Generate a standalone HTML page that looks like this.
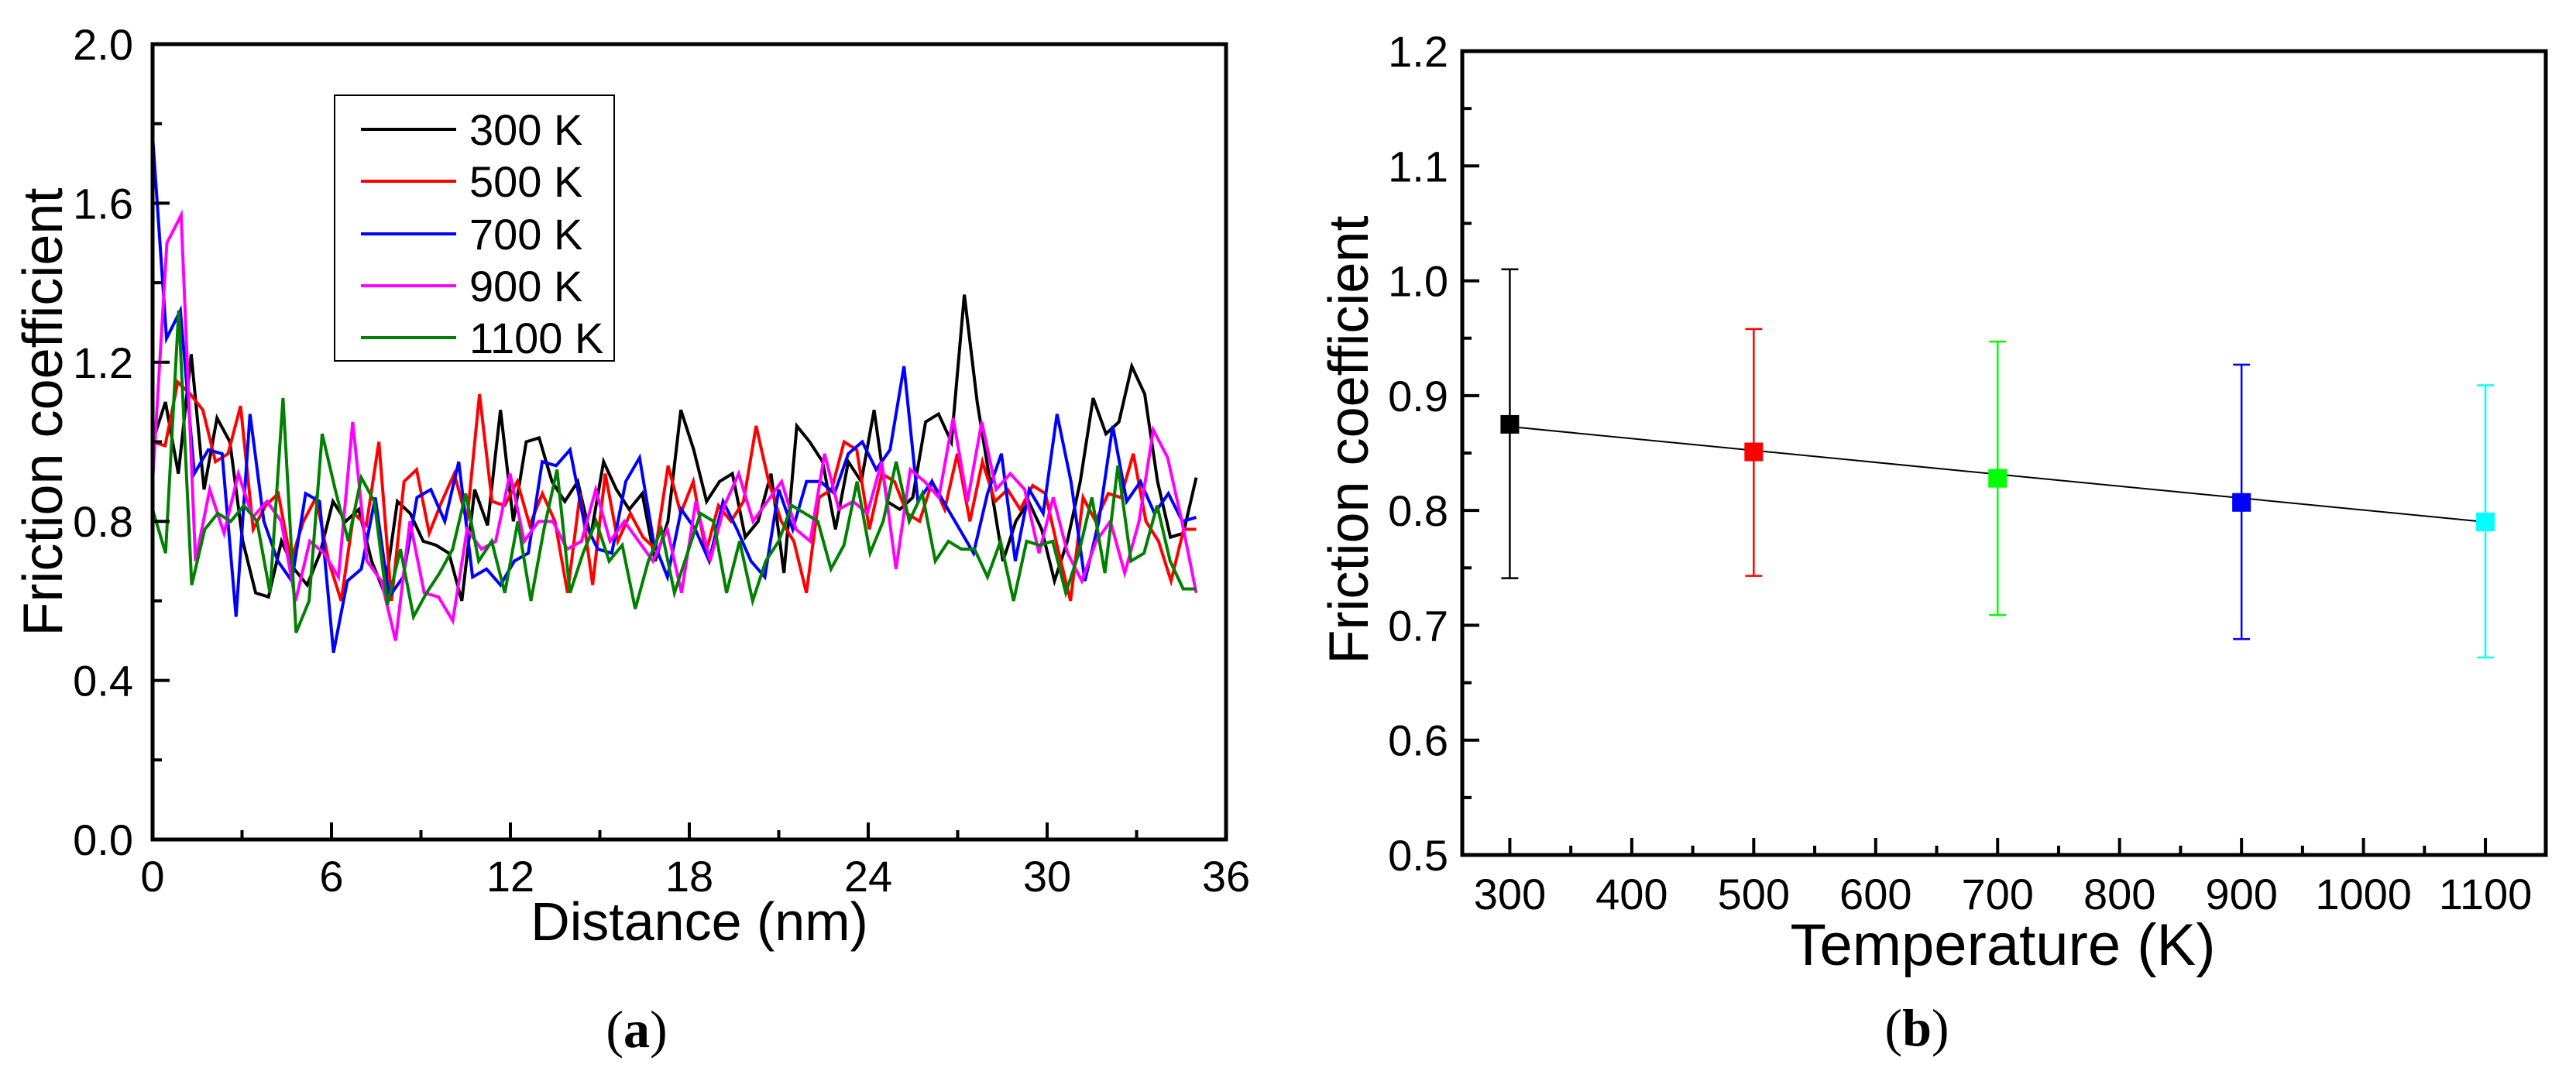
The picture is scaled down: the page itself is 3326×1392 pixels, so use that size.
<!DOCTYPE html>
<html><head><meta charset="utf-8"><style>
html,body{margin:0;padding:0;background:#fff;}
svg{display:block;font-family:"Liberation Sans",Arial,sans-serif;}
</style></head><body>
<svg id="fig" width="3326" height="1392" viewBox="0 0 3326 1392" xmlns="http://www.w3.org/2000/svg">
<g id="pa"></g>
<g id="pb"></g>
</svg>
<script>
// ---- Panel (a) data ----
const seriesNames = ["300 K","500 K","700 K","900 K","1100 K"];
const seriesColors = ["#000000","#ff0000","#0000ff","#ff00ff","#008000"];
const xTicksA = [0,6,12,18,24,30,36];
const yTicksA = [0.0,0.4,0.8,1.2,1.6,2.0];
const s300 = [1.0,1.1,0.92,1.22,0.88,1.06,1.0,0.75,0.62,0.61,0.75,0.68,0.64,0.72,0.85,0.8,0.83,0.7,0.62,0.85,0.82,0.75,0.74,0.72,0.6,0.88,0.79,1.08,0.8,1.0,1.01,0.9,0.85,0.9,0.76,0.95,0.88,0.83,0.87,0.7,0.8,1.08,0.98,0.85,0.9,0.92,0.76,0.8,0.92,0.67,1.04,1.0,0.95,0.78,0.95,0.9,1.08,0.85,0.83,0.86,1.05,1.07,1.0,1.37,1.1,0.9,0.7,0.8,0.85,0.78,0.65,0.75,0.9,1.11,1.02,1.05,1.19,1.12,0.9,0.76,0.77,0.91];
const s500 = [1.0,0.99,1.15,1.12,1.08,0.95,0.97,1.09,0.78,0.84,0.87,0.7,0.8,0.86,0.7,0.6,0.82,0.79,1.0,0.6,0.9,0.93,0.77,0.85,0.92,0.8,1.12,0.85,0.84,0.9,0.79,0.87,0.8,0.62,0.87,0.64,0.92,0.75,0.82,0.76,0.73,0.94,0.82,0.9,0.72,0.84,0.8,0.85,1.04,0.9,0.8,0.75,0.62,0.86,0.88,1.0,0.98,0.78,0.92,0.9,0.82,0.8,0.9,0.83,0.97,0.8,0.95,0.85,0.88,0.83,0.89,0.87,0.73,0.6,0.86,0.8,0.87,0.86,0.97,0.8,0.75,0.65,0.78,0.78];
const s700 = [1.77,1.26,1.33,0.92,0.98,0.97,0.56,1.07,0.8,0.7,0.65,0.87,0.85,0.47,0.65,0.68,0.86,0.61,0.66,0.86,0.88,0.8,0.95,0.66,0.68,0.64,0.7,0.72,0.95,0.94,0.98,0.8,0.73,0.72,0.9,0.96,0.75,0.66,0.83,0.78,0.7,0.85,0.78,0.7,0.66,0.88,0.78,0.9,0.9,0.87,0.97,1.0,0.93,0.98,1.19,0.85,0.9,0.84,0.78,0.72,0.87,0.97,0.7,0.88,0.82,1.07,0.9,0.65,0.8,1.04,0.85,0.9,0.82,0.87,0.8,0.81];
const s900 = [0.9,1.5,1.57,0.7,0.88,0.77,0.92,0.81,0.85,0.8,0.6,0.75,0.72,0.66,1.05,0.7,0.65,0.5,0.8,0.62,0.61,0.55,0.78,0.73,0.75,0.92,0.75,0.8,0.8,0.73,0.75,0.88,0.75,0.8,0.75,0.7,0.78,0.62,0.85,0.7,0.84,0.92,0.8,0.85,0.9,0.78,0.75,0.97,0.83,0.85,0.82,0.95,0.68,0.93,0.9,0.86,1.06,0.85,1.05,0.88,0.92,0.88,0.72,0.86,0.72,0.65,0.75,0.8,0.67,0.8,1.03,0.96,0.8,0.62];
const s1100 = [0.83,0.72,1.33,0.64,0.78,0.82,0.8,0.84,0.8,0.62,1.11,0.52,0.6,1.02,0.88,0.75,0.91,0.85,0.59,0.73,0.56,0.62,0.67,0.73,0.87,0.7,0.75,0.62,0.8,0.6,0.78,0.93,0.62,0.72,0.8,0.7,0.74,0.58,0.7,0.78,0.62,0.72,0.82,0.8,0.62,0.75,0.6,0.7,0.75,0.84,0.82,0.8,0.68,0.74,0.9,0.72,0.8,0.95,0.8,0.87,0.7,0.75,0.73,0.73,0.66,0.75,0.6,0.75,0.74,0.75,0.62,0.72,0.86,0.67,0.94,0.7,0.72,0.84,0.7,0.63,0.63];
const seriesA = [s300,s500,s700,s900,s1100];
const distanceMax = 35;

// ---- Panel (b) data ----
const temps = [300,500,700,900,1100];
const meanMu = [0.875,0.851,0.828,0.807,0.790];
const upperMu = [1.010,0.958,0.947,0.927,0.909];
const lowerMu = [0.741,0.743,0.709,0.688,0.672];
const pointColors = ["#000000","#ff0000","#00ff00","#0000ff","#00ffff"];
const xTicksB = [300,400,500,600,700,800,900,1000,1100];
const yTicksB = [0.5,0.6,0.7,0.8,0.9,1.0,1.1,1.2];
const fitStart = 0.873, fitEnd = 0.790;

const NS="http://www.w3.org/2000/svg";
function mk(parent,tag,attrs,text){const e=document.createElementNS(NS,tag);for(const k in attrs)e.setAttribute(k,attrs[k]);if(text!==undefined)e.textContent=text;parent.appendChild(e);return e;}

// Panel A
const pa=document.getElementById('pa');
const A={l:197,r:1583,t:57,b:1084,x0:0,x1:36,y0:0,y1:2};
const ax=v=>A.l+(v-A.x0)/(A.x1-A.x0)*(A.r-A.l);
const ay=v=>A.b-(v-A.y0)/(A.y1-A.y0)*(A.b-A.t);
seriesA.forEach((s,i)=>{
  const n=s.length;
  const pts=s.map((v,j)=>ax(j*distanceMax/(n-1)).toFixed(1)+","+ay(v).toFixed(1)).join(" ");
  const pl=mk(pa,'polyline',{points:pts,fill:'none',stroke:seriesColors[i],'stroke-width':4,'stroke-linejoin':'miter'});
  
  
});
const fa=mk(pa,'rect',{x:A.l,y:A.t,width:A.r-A.l,height:A.b-A.t,fill:'none',stroke:'#000','stroke-width':5});


for(let v=0;v<=36;v+=3){const x=ax(v);const big=v%6===0;
  const t=mk(pa,'line',{x1:x,x2:x,y1:A.b,y2:A.b-(big?22:12),stroke:'#000','stroke-width':4});
  
  }
for(let k=0;k<=10;k++){const v=k*0.2;const y=ay(v);const big=k%2===0;
  const t=mk(pa,'line',{x1:A.l,x2:A.l+(big?22:12),y1:y,y2:y,stroke:'#000','stroke-width':4});
  
  }
xTicksA.forEach(v=>{const t=mk(pa,'text',{x:ax(v),y:1151,'font-size':56,'text-anchor':'middle'},String(v));
  
  });
yTicksA.forEach(v=>{const t=mk(pa,'text',{x:172,y:ay(v)+20,'font-size':56,'text-anchor':'end'},v.toFixed(1));
  
  });
let t1=mk(pa,'text',{x:903,y:1214,'font-size':70,'text-anchor':'middle'},'Distance (nm)');


let t2=mk(pa,'text',{x:0,y:0,'font-size':72,'text-anchor':'middle',transform:'translate(80,532) rotate(-90)'},'Friction coefficient');


let t3=mk(pa,'text',{x:822,y:1352,'font-size':68,'text-anchor':'middle','font-family':'Liberation Serif, serif'},'');
t3.innerHTML='(<tspan font-weight="bold">a</tspan>)';


// legend
const lg=mk(pa,'g',{});


mk(lg,'rect',{x:432,y:123,width:361,height:343,fill:'#fff',stroke:'#000','stroke-width':2});
const legY=[167,234,302,369,436];
seriesNames.forEach((nm,i)=>{
  const e=mk(lg,'g',{});
  
  
  mk(e,'line',{x1:466,x2:589,y1:legY[i],y2:legY[i],stroke:seriesColors[i],'stroke-width':4});
  mk(e,'text',{x:606,y:legY[i]+20,'font-size':56},nm);
});

// Panel B
const pb=document.getElementById('pb');
const B={l:1888,r:3287,t:66,b:1104,x0:261,x1:1149.5,y0:0.5,y1:1.2};
const bx=v=>B.l+(v-B.x0)/(B.x1-B.x0)*(B.r-B.l);
const by=v=>B.b-(v-B.y0)/(B.y1-B.y0)*(B.b-B.t);
const fit=mk(pb,'line',{x1:bx(temps[0]),y1:by(fitStart),x2:bx(temps[temps.length-1]),y2:by(fitEnd),stroke:'#000','stroke-width':2});


temps.forEach((T,i)=>{
  const g=mk(pb,'g',{});
  
  
  const x=bx(T),c=pointColors[i];
  mk(g,'line',{x1:x,x2:x,y1:by(upperMu[i]),y2:by(lowerMu[i]),stroke:c,'stroke-width':2.5});
  mk(g,'line',{x1:x-11,x2:x+11,y1:by(upperMu[i]),y2:by(upperMu[i]),stroke:c,'stroke-width':2.5});
  mk(g,'line',{x1:x-11,x2:x+11,y1:by(lowerMu[i]),y2:by(lowerMu[i]),stroke:c,'stroke-width':2.5});
  mk(g,'rect',{x:x-12,y:by(meanMu[i])-12,width:24,height:24,fill:c});
});
const fb=mk(pb,'rect',{x:B.l,y:B.t,width:B.r-B.l,height:B.b-B.t,fill:'none',stroke:'#000','stroke-width':5});


for(let v=300;v<=1100;v+=50){const x=bx(v);const big=v%100===0;
  const t=mk(pb,'line',{x1:x,x2:x,y1:B.b,y2:B.b-(big?22:12),stroke:'#000','stroke-width':4});
  
  }
for(let k=0;k<=14;k++){const v=0.5+k*0.05;const y=by(v);const big=k%2===0;
  const t=mk(pb,'line',{x1:B.l,x2:B.l+(big?22:12),y1:y,y2:y,stroke:'#000','stroke-width':4});
  
  }
xTicksB.forEach(v=>{const t=mk(pb,'text',{x:bx(v),y:1174,'font-size':56,'text-anchor':'middle'},String(v));
  
  });
yTicksB.forEach(v=>{const t=mk(pb,'text',{x:1870,y:by(v)+20,'font-size':56,'text-anchor':'end'},v.toFixed(1));
  
  });
let u1=mk(pb,'text',{x:2586,y:1246,'font-size':76,'text-anchor':'middle'},'Temperature (K)');


let u2=mk(pb,'text',{x:0,y:0,'font-size':72,'text-anchor':'middle',transform:'translate(1766,568) rotate(-90)'},'Friction coefficient');


let u3=mk(pb,'text',{x:2475,y:1350,'font-size':68,'text-anchor':'middle','font-family':'Liberation Serif, serif'},'');
u3.innerHTML='(<tspan font-weight="bold">b</tspan>)';


</script>
</body></html>
